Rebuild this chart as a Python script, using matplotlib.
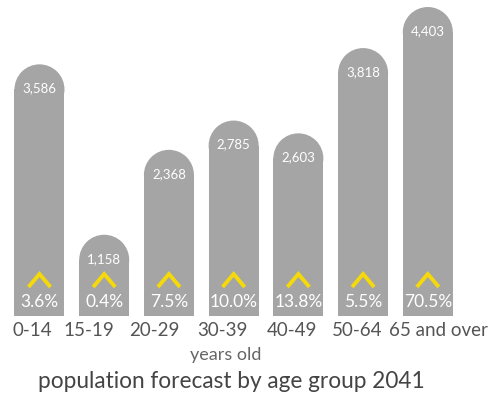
import matplotlib.pyplot as plt
from matplotlib.patches import Rectangle, Ellipse

age_groups = ["0-14", "15-19", "20-29", "30-39", "40-49", "50-64", "65 and over"]
population = [3586, 1158, 2368, 2785, 2603, 3818, 4403]
growth_pct = [3.6, 0.4, 7.5, 10.0, 13.8, 5.5, 70.5]

bar_color = "#a5a5a5"
arrow_color = "#f5d90a"
plt.rcParams["font.family"] = ["Lato", "DejaVu Sans"]

W, H = 488, 397
fig = plt.figure(figsize=(W / 100, H / 100), dpi=100)
# axes: bottom of bars at pixel row 316, top of figure at row 0
ax = fig.add_axes([0, (H - 316) / H, 1, 316 / H])
ax.set_xlim(-0.61, 6.93)
ax.set_ylim(0, 4503)
ax.axis("off")

# data units per pixel
px_x = (6.93 + 0.61) / W
px_y = 4503 / 316
width = 50 * px_x
ry = (width / 2 / px_x) * px_y

for i, (v, p) in enumerate(zip(population, growth_pct)):
    ax.add_patch(Rectangle((i - width / 2, 0), width, v - ry, color=bar_color, lw=0))
    ax.add_patch(Ellipse((i, v - ry), width, 2 * ry, color=bar_color, lw=0))
    ax.text(i, v - 24 * px_y, f"{v:,}", color="white", fontsize=9.5,
            ha="center", va="center")
    ax.text(i, 14 * px_y, f"{p:.1f}%", color="white", fontsize=12.5,
            ha="center", va="center")
    ax.plot([i - 11 * px_x, i, i + 11 * px_x],
            [29 * px_y, 42 * px_y, 29 * px_y],
            color=arrow_color, lw=2.8, solid_capstyle="butt", solid_joinstyle="miter")

# category labels are set like a spaced text line under the bars
label_x_px = [32, 89, 154, 222, 292, 357, 438]
for lx, lab in zip(label_x_px, age_groups):
    fig.text(lx / W, 1 - 331 / H, lab, color="#555555",
             fontsize=13.5, ha="center", va="center")

fig.text(226 / W, 1 - 355 / H, "years old", color="#666666", fontsize=13,
         ha="center", va="center")
fig.text(231 / W, 1 - 382 / H, "population forecast by age group 2041",
         color="#444444", fontsize=16.3, ha="center", va="center")

fig.savefig("out.png", dpi=100)
